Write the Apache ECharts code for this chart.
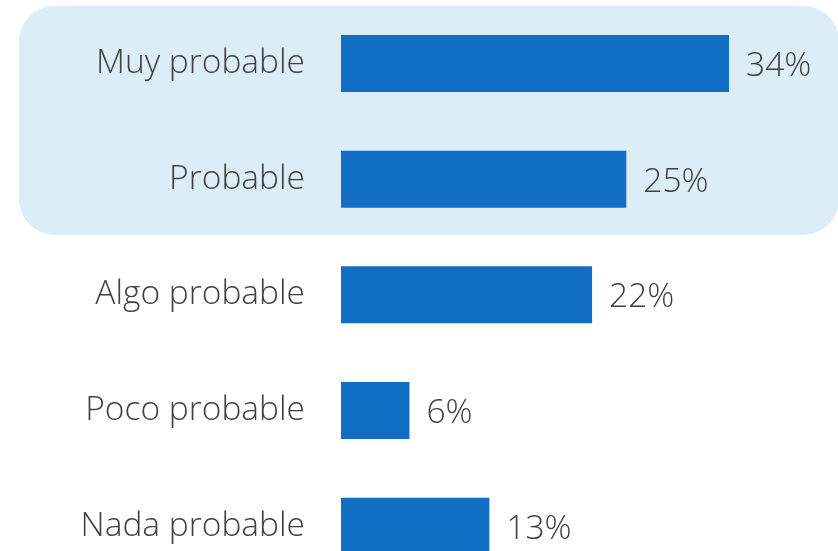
<!DOCTYPE html>
<html>
<head>
<meta charset="utf-8">
<style>
html,body{margin:0;padding:0;background:#fff;}
#c{width:838px;height:551px;}
</style>
<script src="https://cdn.jsdelivr.net/npm/echarts@6/dist/echarts.min.js"></script>
</head>
<body>
<div id="c"></div>
<script>
const categories = ['Muy probable', 'Probable', 'Algo probable', 'Poco probable', 'Nada probable'];
const values = [34, 25, 22, 6, 13];
const highlighted = ['Muy probable', 'Probable'];

(function () {
const chart = echarts.init(document.getElementById('c'), null, {renderer: 'canvas'});
const FONT = '"Open Sans", "Segoe UI", sans-serif';
const option = {
  animation: false,
  backgroundColor: '#ffffff',
  grid: {left: 341, right: 40.5, top: 5.7, height: 578.3, containLabel: false, outerBoundsMode: 'none'},
  xAxis: {
    type: 'value', min: 0, max: 40, show: false
  },
  yAxis: {
    type: 'category', data: categories, inverse: true,
    axisLine: {show: false}, axisTick: {show: false}, splitLine: {show: false},
    axisLabel: {margin: 36, fontSize: 33.5, fontFamily: FONT, fontWeight: 300, color: '#404040',
      padding: [4, 0, 0, 0]}
  },
  series: [{
    type: 'bar', data: values, barWidth: 57, z: 10,
    itemStyle: {color: '#106EC5'},
    label: {show: true, position: 'right', distance: 17, formatter: '{c}%',
      fontSize: 33.5, fontFamily: FONT, fontWeight: 300, color: '#404040', offset: [0, 3]}
  }]
};
chart.setOption(option);

// Highlight band behind the first two categories, positioned from the axis scale
const p0 = chart.convertToPixel({yAxisIndex: 0}, highlighted[0]);
const p1 = chart.convertToPixel({yAxisIndex: 0}, highlighted[highlighted.length - 1]);
const pn = chart.convertToPixel({yAxisIndex: 0}, categories[2]);
const band = pn - p1;
const y0 = p0 - band / 2;
const y1 = p1 + band / 2 - 2;
chart.setOption({
  graphic: [{
    type: 'rect', z: -10, silent: true,
    shape: {x: 19, y: y0, width: 838 - 19 + 1, height: y1 - y0, r: 36},
    style: {fill: '#DBEEF8'}
  }]
});
})();
</script>
</body>
</html>
